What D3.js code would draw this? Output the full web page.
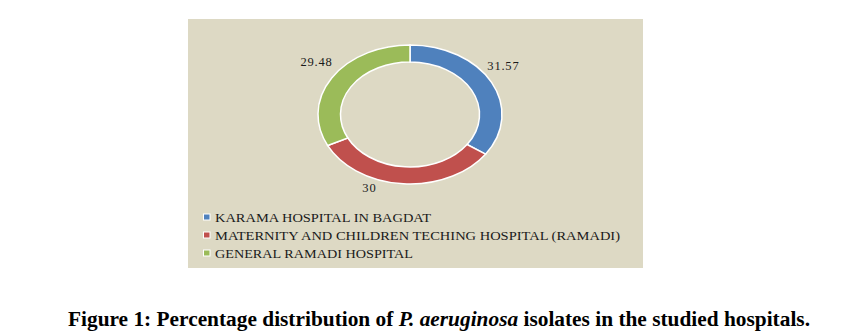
<!DOCTYPE html>
<html>
<head>
<meta charset="utf-8">
<script src="https://cdn.jsdelivr.net/npm/d3@7"></script>
<style>
  html, body { margin: 0; padding: 0; background: #ffffff; }
  svg { display: block; }
</style>
</head>
<body>
<svg id="chart" width="849" height="336"></svg>
<script>
const categories = [
  "KARAMA HOSPITAL IN BAGDAT",
  "MATERNITY AND CHILDREN TECHING HOSPITAL (RAMADI)",
  "GENERAL RAMADI HOSPITAL"
];
const values = [31.57, 30, 29.48];
const valueLabels = ["31.57", "30", "29.48"];
const colors = ["#4F81BD", "#C0504D", "#9BBB59"];

const svg = d3.select("#chart");

// panel
svg.append("rect")
  .attr("x", 188).attr("y", 19)
  .attr("width", 455).attr("height", 249)
  .attr("fill", "#DDD9C4");

const cx = 410, cy = 114.5;
const rOuter = 69.5, rInner = 52.5, sx = 1.324;

const pie = d3.pie().sort(null).value(d => d);
const arcs = pie(values);
const arc = d3.arc().innerRadius(rInner).outerRadius(rOuter);

const g = svg.append("g")
  .attr("transform", `translate(${cx},${cy}) scale(${sx},1)`);

g.selectAll("path.slice")
  .data(arcs)
  .join("path")
  .attr("class", "slice")
  .attr("d", arc)
  .attr("fill", (d, i) => colors[i])
  .attr("stroke", "#ffffff")
  .attr("stroke-width", 1.5)
  .attr("vector-effect", "non-scaling-stroke");

// data labels
const labelArc = d3.arc().innerRadius(86).outerRadius(86);
const nudges = [[-7.5, -8.7], [-32.4, -12.3], [3.4, -7.3]];
svg.selectAll("text.val")
  .data(arcs)
  .join("text")
  .attr("class", "val")
  .attr("x", (d, i) => cx + labelArc.centroid(d)[0] * sx + nudges[i][0])
  .attr("y", (d, i) => cy + labelArc.centroid(d)[1] + nudges[i][1])
  .attr("dy", "0.35em")
  .attr("text-anchor", "middle")
  .attr("font-family", "'Liberation Serif', 'Times New Roman', serif")
  .attr("font-size", 12.5)
  .attr("letter-spacing", 0.8)
  .attr("fill", "#1a1a1a")
  .text((d, i) => valueLabels[i]);

// legend
const legendWidths = [216, 405, 198];
const lg = svg.append("g");
categories.forEach((c, i) => {
  const y = 217 + i * 18;
  lg.append("rect")
    .attr("x", 203.5).attr("y", y - 3)
    .attr("width", 6.5).attr("height", 6)
    .attr("fill", colors[i])
    .attr("stroke", "#ffffff").attr("stroke-width", 1);
  lg.append("text")
    .attr("x", 215).attr("y", y)
    .attr("dy", "0.35em")
    .attr("font-family", "'Liberation Serif', 'Times New Roman', serif")
    .attr("font-size", 13)
    .attr("fill", "#1a1a1a")
    .attr("textLength", legendWidths[i])
    .attr("lengthAdjust", "spacingAndGlyphs")
    .text(c);
});

// caption
const cap = svg.append("text")
  .attr("x", 68).attr("y", 326)
  .attr("font-family", "'Liberation Serif', 'Times New Roman', serif")
  .attr("font-weight", "bold")
  .attr("font-size", 20.5)
  .attr("fill", "#000")
  .attr("textLength", 742)
  .attr("lengthAdjust", "spacingAndGlyphs");
cap.append("tspan").text("Figure 1: Percentage distribution of ");
cap.append("tspan").attr("font-style", "italic").text("P. aeruginosa");
cap.append("tspan").text(" isolates in the studied hospitals.");
</script>
</body>
</html>
